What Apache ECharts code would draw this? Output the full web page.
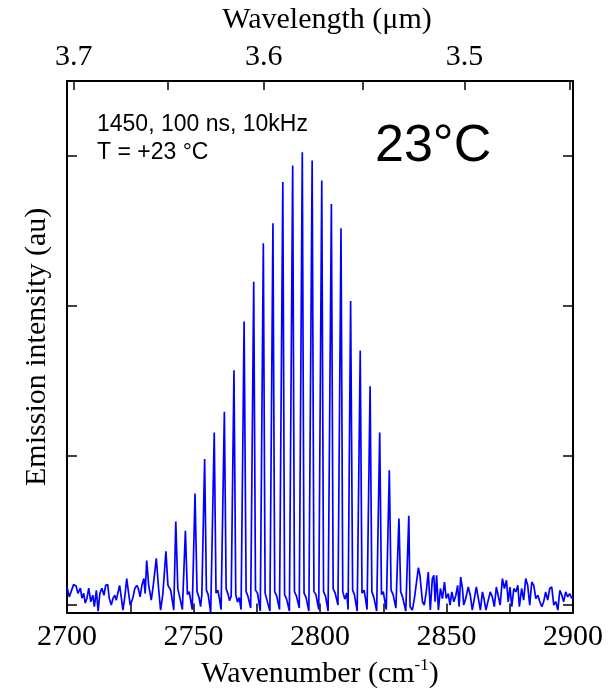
<!DOCTYPE html>
<html>
<head>
<meta charset="UTF-8">
<title>emission spectrum</title>
<script type="text/javascript" src="https://cdn.jsdelivr.net/npm/echarts@6.0.0/dist/echarts.min.js"></script>
<style>
  html, body { margin: 0; padding: 0; background: #fff; }
</style>
</head>
<body>
<div id="main" style="width: 615px; height: 694px"></div>

<script type="text/javascript">
	// wavenumber (cm-1)
	var wavenumber = [
		2700.0, 2700.9, 2702.6, 2703.6, 2704.3, 2705.3, 2705.9, 2706.6, 2707.2, 2707.9,
		2708.6, 2709.4, 2710.2, 2710.8, 2711.6, 2712.3, 2713.0, 2713.8, 2714.6, 2715.3,
		2716.1, 2716.7, 2717.5, 2718.2, 2718.9, 2719.5, 2720.2, 2720.8, 2721.5, 2722.1,
		2722.8, 2723.6, 2724.2, 2725.0, 2726.0, 2726.8, 2727.6, 2728.2, 2728.9, 2729.6,
		2730.4, 2730.9, 2731.5, 2732.3, 2733.3, 2734.1, 2735.3, 2736.2, 2737.0, 2737.9,
		2739.1, 2739.9, 2741.0, 2742.2,
		2743.0, 2743.8, 2744.6, 2745.6,
		2746.8, 2747.6, 2748.3, 2749.5,
		2750.6, 2751.4, 2752.2, 2752.8, 2753.3,
		2754.4, 2755.1, 2755.8, 2756.8,
		2758.2, 2758.9, 2759.6, 2760.2, 2760.9,
		2762.2, 2762.9, 2763.7, 2764.2, 2764.9,
		2766.0, 2766.7, 2767.4, 2768.1, 2768.8,
		2770.0, 2770.8, 2771.5, 2772.6,
		2773.8, 2774.5, 2775.3, 2776.4,
		2777.6, 2778.3, 2779.0, 2780.2,
		2781.4, 2782.1, 2782.9, 2784.0,
		2785.3, 2786.0, 2786.8, 2787.9,
		2789.2, 2789.9, 2790.7, 2791.8,
		2793.0, 2793.7, 2794.5, 2795.6,
		2796.9, 2797.6, 2798.4, 2799.5,
		2800.7, 2801.4, 2802.2, 2803.2,
		2804.5, 2805.2, 2806.0, 2807.1,
		2808.3, 2809.0, 2809.8, 2810.6, 2811.1,
		2812.1, 2812.9, 2813.6, 2814.7,
		2815.9, 2816.6, 2817.4, 2818.0, 2818.6,
		2819.8, 2820.5, 2821.3, 2822.4,
		2823.6, 2824.3, 2825.0, 2826.2,
		2827.4, 2828.1, 2828.9, 2830.0,
		2831.2, 2831.9, 2832.7, 2833.9,
		2835.1,
		2835.6, 2836.5, 2837.3, 2838.9, 2839.5, 2840.5, 2841.2, 2842.0, 2842.8, 2843.6,
		2844.4, 2845.0, 2845.5, 2846.1, 2846.8, 2847.6, 2848.4, 2849.2, 2849.9, 2850.7,
		2851.4, 2852.1, 2852.9, 2853.7, 2854.4, 2855.0, 2855.6, 2856.3, 2856.8, 2857.6,
		2858.6, 2859.4, 2860.2, 2861.0, 2861.8, 2862.6, 2863.4, 2864.2, 2864.8, 2865.6,
		2866.5, 2867.3, 2868.1, 2868.9, 2869.7, 2870.4, 2871.2, 2872.1, 2872.9, 2873.7,
		2874.4, 2875.1, 2875.8, 2876.6, 2877.4, 2878.2, 2878.8, 2879.7, 2880.5, 2881.3,
		2882.1, 2882.9, 2883.7, 2884.5, 2885.3, 2886.1, 2886.9, 2887.7, 2888.4, 2889.2,
		2890.0, 2890.8, 2891.6, 2892.4, 2893.2, 2894.0, 2894.8, 2895.6, 2896.3, 2897.1,
		2897.9, 2898.7, 2899.5, 2900.0
	];
	// emission intensity (au), same order
	var intensity = [
		0.121, 0.055, 0.137, 0.128, 0.079, 0.113, 0.046, 0.079, 0.013, 0.046,
		0.113, 0.022, 0.066, -0.011, 0.099, -0.040, 0.079, 0.113, 0.066, 0.132,
		0.137, 0.046, 0.000, 0.046, 0.066, 0.033, 0.088, 0.132, 0.046, -0.033,
		0.046, 0.177, 0.099, 0.000, 0.046, 0.111, 0.132, 0.111, 0.055, 0.132,
		0.177, 0.077, 0.298, 0.132, 0.033, 0.132, 0.313, 0.111, -0.033, 0.077,
		0.360, 0.132, 0.099, -0.033,
		0.558, 0.11, 0.05, -0.03,
		0.497, 0.07, 0.09, -0.03,
		0.746, 0.09, 0.05, -0.01, 0.07,
		0.975, 0.10, 0.07, -0.05,
		1.152, 0.08, 0.10, 0.05, -0.03,
		1.291, 0.11, 0.07, 0.03, 0.06,
		1.568, 0.07, 0.02, 0.05, -0.03,
		1.894, 0.09, 0.06, -0.02,
		2.159, 0.10, 0.08, -0.04,
		2.417, 0.08, 0.09, -0.04,
		2.550, 0.09, 0.06, -0.03,
		2.826, 0.07, 0.04, -0.04,
		2.936, 0.09, 0.06, -0.02,
		3.024, 0.08, 0.05, -0.04,
		2.969, 0.09, 0.07, -0.03,
		2.836, 0.09, 0.06, -0.04,
		2.678, 0.11, 0.08, 0.00,
		2.517, 0.09, 0.04, 0.08, -0.03,
		2.031, 0.10, 0.07, -0.04,
		1.700, 0.08, 0.10, 0.04, -0.03,
		1.462, 0.09, 0.05, -0.04,
		1.152, 0.07, 0.09, -0.03,
		0.901, 0.10, 0.07, -0.02,
		0.578, 0.09, 0.05, -0.04,
		0.596,
		-0.011, -0.033, 0.044, 0.250, 0.199, 0.022, 0.000, 0.088, 0.221, -0.033,
		0.177, 0.199, 0.022, 0.199, -0.033, 0.111, 0.044, 0.154, 0.044, 0.077,
		0.000, 0.088, 0.022, 0.066, 0.132, -0.011, 0.187, 0.111, 0.000, 0.044,
		0.121, 0.066, -0.033, 0.044, 0.121, 0.044, -0.033, 0.088, 0.044, -0.033,
		0.033, 0.088, 0.055, -0.011, 0.121, 0.066, 0.000, 0.177, 0.111, 0.166,
		0.022, 0.121, -0.011, 0.111, 0.088, 0.132, -0.011, 0.111, 0.033, 0.177,
		0.132, 0.000, 0.154, 0.132, 0.044, 0.066, 0.022, -0.011, 0.022, 0.088,
		0.033, 0.111, 0.121, 0.000, 0.022, -0.033, 0.099, 0.066, 0.022, 0.088,
		0.055, 0.077, 0.044, 0.055
	];

	var xTicks = [2700, 2725, 2750, 2775, 2800, 2825, 2850, 2875, 2900];
	var xLabels = [2700, 2750, 2800, 2850, 2900];
	var topTicksUm = [3.7, 3.65, 3.6, 3.55, 3.5, 3.45];
	var topLabelsUm = [3.7, 3.6, 3.5];
	var yTicks = [0, 1, 2, 3];

	// wavelength in um -> wavenumber in cm-1
	function toWn(um) { return 10000 / um; }

	var pts = [];
	for (var i = 0; i < wavenumber.length; i++) {
		pts.push([wavenumber[i], intensity[i]]);
	}

	var serif = 'Liberation Serif';
	var axisLine = { onZero: false, lineStyle: { color: '#000', width: 2 } };
	var tickStyle = { color: '#000', width: 1.5 };

	var mychart = echarts.init(document.getElementById('main'));
	var option = {
		animation: false,
		backgroundColor: '#fff',
		grid: { left: 67, top: 81, width: 506, height: 536 },
		xAxis: [{
			type: 'value', position: 'bottom',
			min: 2700, max: 2900, interval: 25,
			axisLine: axisLine,
			axisTick: { show: true, inside: true, length: 9, customValues: xTicks, lineStyle: tickStyle },
			axisLabel: {
				customValues: xLabels, margin: 10, color: '#000', fontFamily: serif, fontSize: 30,
				formatter: function (v) { return String(v); }
			},
			splitLine: { show: false },
			name: '{a|Wavenumber (cm}{s|-1}{a|)}',
			nameLocation: 'middle', nameGap: 44,
			nameTextStyle: {
				rich: {
					a: { fontFamily: serif, fontSize: 30, color: '#000' },
					s: { fontFamily: serif, fontSize: 17, color: '#000', verticalAlign: 'top', padding: [0, 0, 16, 0] }
				}
			}
		}, {
			type: 'value', position: 'top',
			min: 2700, max: 2900,
			axisLine: axisLine,
			axisTick: { show: true, inside: true, length: 9, customValues: topTicksUm.map(toWn), lineStyle: tickStyle },
			axisLabel: {
				customValues: topLabelsUm.map(toWn), margin: 9, color: '#000', fontFamily: serif, fontSize: 30,
				formatter: function (v) { return (10000 / v).toFixed(1); }
			},
			splitLine: { show: false },
			name: 'Wavelength (\u03bcm)',
			nameLocation: 'middle', nameGap: 46,
			nameTextStyle: { fontFamily: serif, fontSize: 30, color: '#000', padding: [0, 0, 0, 14] }
		}],
		yAxis: [{
			type: 'value', position: 'left',
			min: -0.05, max: 3.5,
			axisLine: axisLine,
			axisTick: { show: true, inside: true, length: 10, customValues: yTicks, lineStyle: tickStyle },
			axisLabel: { show: false },
			splitLine: { show: false },
			name: 'Emission intensity (au)',
			nameLocation: 'middle', nameGap: 15,
			nameTextStyle: { fontFamily: serif, fontSize: 30, color: '#000' }
		}, {
			type: 'value', position: 'right',
			min: -0.05, max: 3.5,
			axisLine: axisLine,
			axisTick: { show: true, inside: true, length: 10, customValues: yTicks, lineStyle: tickStyle },
			axisLabel: { show: false },
			splitLine: { show: false }
		}],
		graphic: [
			{ type: 'text', x: 97, y: 125, style: { text: '1450, 100 ns, 10kHz', font: '23px "Liberation Sans"', fill: '#000', verticalAlign: 'middle' } },
			{ type: 'text', x: 97, y: 153, style: { text: 'T = +23 \u00b0C', font: '23px "Liberation Sans"', fill: '#000', verticalAlign: 'middle' } },
			{ type: 'text', x: 375, y: 147, style: { text: '23\u00b0C', font: '52px "Liberation Sans"', fill: '#000', verticalAlign: 'middle' } }
		],
		series: [{
			type: 'line',
			xAxisIndex: 0, yAxisIndex: 0,
			data: pts,
			showSymbol: false,
			z: 1,
			lineStyle: { color: '#0000ff', width: 1.7 }
		}]
	};
	mychart.setOption(option);
</script>
</body>
</html>
